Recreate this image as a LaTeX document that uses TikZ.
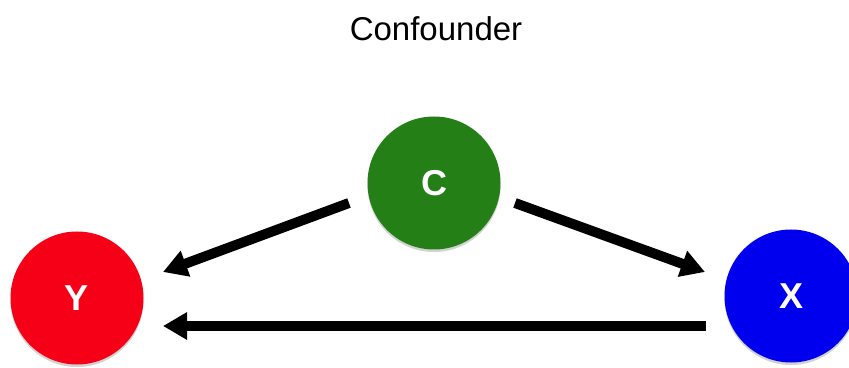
\documentclass[tikz,border=0pt]{standalone}
\usepackage{fontspec}
\setmainfont{Liberation Sans}
\usetikzlibrary{arrows.meta,shadows}
\definecolor{cgreen}{RGB}{36,128,22}
\definecolor{cred}{RGB}{245,0,22}
\definecolor{cblue}{RGB}{0,0,238}
\tikzset{
  var/.style={circle, minimum size=133pt, inner sep=0pt, text=white,
    font=\fontsize{36}{40}\selectfont\bfseries,
    drop shadow={opacity=0.35, shadow xshift=0pt, shadow yshift=-2.5pt}},
  arr/.style={line width=10pt, -{Triangle[length=24pt,width=26pt]}},
}
\begin{document}
\begin{tikzpicture}[x=1pt,y=1pt]
\useasboundingbox (0,0) rectangle (849,367);
\clip (0,0) rectangle (849,367);
\fill[white] (0,0) rectangle (849,367);
\node (title) at (436,338) {\fontsize{33}{36}\selectfont Confounder};
\node[var, fill=cgreen] (C) at (434,184) {C};
\node[var, fill=cred] (Y) at (77,69) {Y};
\node[var, fill=cblue] (X) at (791,71) {X};
\coordinate (c1) at (349,164);
\coordinate (y1) at (163,95);
\coordinate (c2) at (515,164);
\coordinate (x1) at (705,95);
\coordinate (x2) at (706,41);
\coordinate (y2) at (163,41);
\draw[arr] (c1) -- (y1);
\draw[arr] (c2) -- (x1);
\draw[arr] (x2) -- (y2);
\end{tikzpicture}
\end{document}
